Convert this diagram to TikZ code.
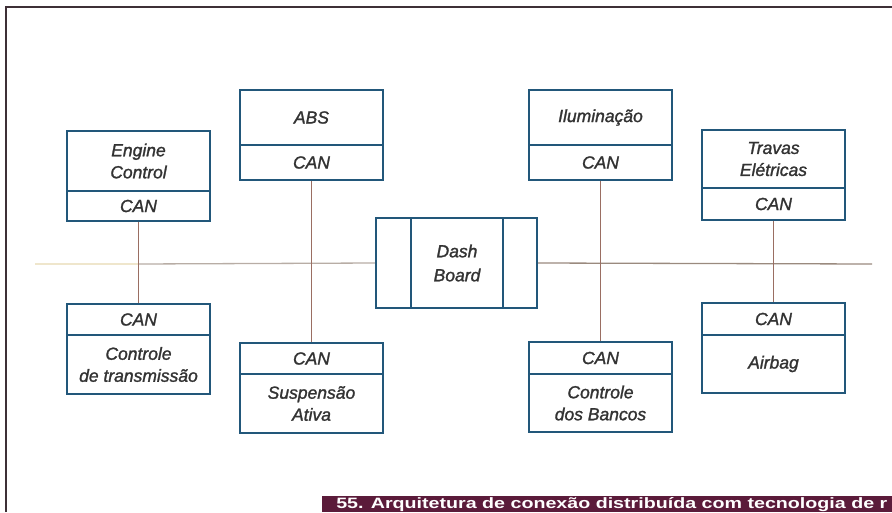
\documentclass[tikz,border=0pt]{standalone}
\usepackage{fontspec}
\setmainfont{Liberation Sans}
\newfontfamily\modfont[FakeBold=1.4]{Liberation Sans}
\definecolor{boxblue}{HTML}{22577A}
\definecolor{txtgray}{HTML}{333333}
\definecolor{busgray}{HTML}{9A8A7E}
\definecolor{busfade}{HTML}{EFE6CC}
\definecolor{linkbrown}{HTML}{9A6E62}
\definecolor{framec}{HTML}{3E3036}
\definecolor{capbar}{HTML}{5B1B3A}
\begin{document}
\begin{tikzpicture}[x=1pt,y=-1pt,
  part/.style={draw=boxblue,line width=2.2pt,fill=white,minimum width=143pt,
    inner sep=0pt,align=center,text=txtgray,
    font=\modfont\fontsize{17.5}{20}\selectfont\itshape},
  bus/.style={line width=1.3pt},
  link/.style={draw=linkbrown,line width=0.9pt}]
\useasboundingbox (0,0) rectangle (892,512);
\fill[white] (0,0) rectangle (892,512);

% outer frame (top and left edges)
\draw[framec,line width=1.6pt] (6,512) -- (6,7) -- (892,7);

% CAN bus
\coordinate (busL) at (35,264);
\coordinate (busM) at (138.5,264);
\coordinate (busR) at (872,264);

% Dash board
\node[part,minimum width=161pt,minimum height=90pt] (dash) at (456.5,263) {};
\draw[boxblue,line width=2.2pt] (411,218) -- (411,308) (503,218) -- (503,308);
\node[align=center,text=txtgray,font=\modfont\fontsize{17.5}{24}\selectfont\itshape] (dashtxt) at (457,263) {Dash\\Board};

\draw[bus,busfade] (busL) -- (busM);
\draw[bus,busgray!70] (busM) -- (dash.west);
\draw[bus,busgray] (dash.east) -- (busR);

% upper modules
\node[part,minimum height=60pt] (eng) at (138.5,161) {Engine\\[2pt]Control};
\node[part,minimum height=30pt] (engc) at (138.5,206) {CAN};
\node[part,minimum height=55pt] (abs) at (311.5,117.5) {ABS};
\node[part,minimum height=35pt] (absc) at (311.5,162.5) {CAN};
\node[part,minimum height=55pt] (ilu) at (600.5,117.5) {Iluminação};
\node[part,minimum height=35pt] (iluc) at (600.5,162.5) {CAN};
\node[part,minimum height=58pt] (trv) at (773.5,159) {Travas\\[2pt]Elétricas};
\node[part,minimum height=32pt] (trvc) at (773.5,204) {CAN};

% lower modules
\node[part,minimum height=31pt] (trnc) at (138.5,319.5) {CAN};
\node[part,minimum height=59pt] (trn) at (138.5,364.5) {Controle\\[2pt]de transmissão};
\node[part,minimum height=31pt] (susc) at (311.5,358.5) {CAN};
\node[part,minimum height=59pt] (sus) at (311.5,403.5) {Suspensão\\[2pt]Ativa};
\node[part,minimum height=32pt] (banc) at (600.5,358) {CAN};
\node[part,minimum height=58pt] (ban) at (600.5,403) {Controle\\[2pt]dos Bancos};
\node[part,minimum height=32pt] (airc) at (773.5,319) {CAN};
\node[part,minimum height=58pt] (air) at (773.5,364) {Airbag};

% stubs from each CAN controller to the bus
\draw[link] (engc.south) -- (trnc.north);
\draw[link] (absc.south) -- (susc.north);
\draw[link] (iluc.south) -- (banc.north);
\draw[link] (trvc.south) -- (airc.north);

% caption strip along the bottom edge
\fill[capbar] (322,496) rectangle (892,512);
\node[anchor=west,inner sep=0pt,text=white,xscale=1.31,
  font=\fontsize{15}{16}\selectfont\bfseries] (cap) at (336,504.5)
  {55. Arquitetura de conexão distribuída com tecnologia de r};
\end{tikzpicture}
\end{document}
